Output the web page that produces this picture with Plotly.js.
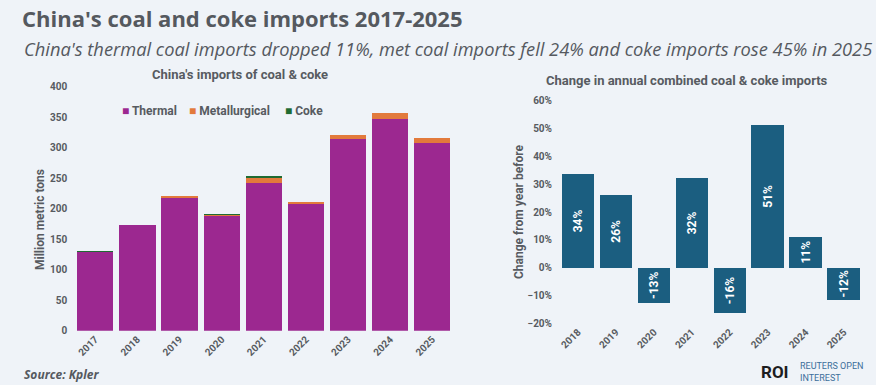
<!DOCTYPE html>
<html>
<head>
<meta charset="utf-8">
<script src="https://cdn.plot.ly/plotly-3.0.1.min.js"></script>
<style>
  html, body { margin: 0; padding: 0; background: #eff3f8; }
  #chart { width: 876px; height: 385px; }
</style>
</head>
<body>
<div id="chart"></div>
<script>
// ---- Data ----
const years = ['2017', '2018', '2019', '2020', '2021', '2022', '2023', '2024', '2025'];
const thermal = [129, 173, 218, 187.5, 242.5, 208, 315, 347.5, 308];
const metallurgical = [0.5, 0.6, 2.2, 1.5, 8.5, 3.7, 5.1, 9.1, 7.1];
const coke = [1.5, 0, 0, 2.3, 2, 0, 0, 0, 0];

const changeYears = ['2018', '2019', '2020', '2021', '2022', '2023', '2024', '2025'];
const changePct = [33.6, 26.1, -12.7, 32.1, -16.4, 51.2, 11.1, -11.6];

const seriesNames = ['Thermal', 'Metallurgical', 'Coke'];
const seriesColors = ['#9c2890', '#e27a3c', '#1f6b32'];
const changeColor = '#1b5e80';

const W = 876, H = 385;
const px = x => x / W;
const py = y => (H - y) / H;

const FONT = 'Roboto, "Open Sans", sans-serif';
const HFONT = '"Open Sans", Roboto, sans-serif';
const GRAY = '#575b61';

const seriesData = [thermal, metallurgical, coke];
const traces = seriesData.map((vals, i) => ({
  type: 'bar',
  name: seriesNames[i],
  x: years,
  y: vals,
  xaxis: 'x',
  yaxis: 'y',
  marker: { color: seriesColors[i] },
  hoverinfo: 'x+y+name'
}));

traces.push({
  type: 'bar',
  name: 'Change',
  x: changeYears,
  y: changePct,
  xaxis: 'x2',
  yaxis: 'y2',
  marker: { color: changeColor },
  texttemplate: '%{y:.0f}%',
  textposition: 'inside',
  insidetextanchor: 'middle',
  textangle: -90,
  textfont: { family: FONT, size: 12, color: '#ffffff', weight: 'bold' },
  constraintext: 'none',
  showlegend: false
});

const tickFont = { family: FONT, size: 10, color: GRAY, weight: 'bold' };

// Legend built as annotations
const legendX = [120, 187, 283];
const legendAnn = seriesNames.map((n, i) => ({
  xref: 'paper', yref: 'paper',
  x: px(legendX[i]), y: py(111),
  xanchor: 'left', yanchor: 'middle',
  showarrow: false,
  text: '<span style="color:' + seriesColors[i] + '">■</span> ' + n,
  font: { family: FONT, size: 12, color: GRAY, weight: 'bold' }
}));

const layout = {
  width: W, height: H,
  margin: { l: 0, r: 0, t: 0, b: 0 },
  paper_bgcolor: '#eff3f8',
  plot_bgcolor: '#eff3f8',
  barmode: 'stack',
  bargap: 0.14,
  showlegend: false,
  title: {
    text: "<b>China's coal and coke imports 2017-2025</b>",
    x: px(22), xanchor: 'left', xref: 'container',
    y: py(19), yanchor: 'middle', yref: 'container',
    font: { family: HFONT, size: 22, color: '#55595f' }
  },
  xaxis: {
    domain: [px(74.2), px(453.4)],
    anchor: 'y',
    type: 'category',
    tickmode: 'array', tickvals: years, ticktext: years,
    tickangle: -45,
    tickfont: tickFont,
    showgrid: false, zeroline: false, showline: false,
    ticks: ''
  },
  yaxis: {
    domain: [py(330.7), py(86.7)],
    anchor: 'x',
    range: [0, 400],
    dtick: 50,
    tickfont: tickFont,
    showgrid: false, zeroline: false, showline: false,
    ticks: '',
    ticklabelstandoff: 6
  },
  xaxis2: {
    domain: [px(559), px(862.7)],
    anchor: 'y2',
    type: 'category',
    tickmode: 'array', tickvals: changeYears, ticktext: changeYears,
    tickangle: -45,
    tickfont: tickFont,
    showgrid: false, zeroline: false, showline: false,
    ticks: ''
  },
  yaxis2: {
    domain: [py(323.3), py(100.7)],
    anchor: 'x2',
    range: [-20, 60],
    dtick: 10,
    ticksuffix: '%',
    tickfont: tickFont,
    showgrid: false, zeroline: false, showline: false,
    ticks: '',
    ticklabelstandoff: 6
  },
  annotations: [
    {
      xref: 'paper', yref: 'paper', x: px(22), y: py(48),
      xanchor: 'left', yanchor: 'middle', showarrow: false,
      text: "<i>China's thermal coal imports dropped 11%, met coal imports fell 24% and coke imports rose 45% in 2025</i>",
      font: { family: HFONT, size: 18.3, color: '#55595f' }
    },
    {
      xref: 'paper', yref: 'paper', x: px(240), y: py(75),
      xanchor: 'center', yanchor: 'middle', showarrow: false,
      text: "China's imports of coal & coke",
      font: { family: FONT, size: 13, color: GRAY, weight: 'bold' }
    },
    {
      xref: 'paper', yref: 'paper', x: px(687), y: py(81),
      xanchor: 'center', yanchor: 'middle', showarrow: false,
      text: 'Change in annual combined coal & coke imports',
      font: { family: FONT, size: 13, color: GRAY, weight: 'bold' }
    },
    {
      xref: 'paper', yref: 'paper', x: px(40), y: py(220),
      xanchor: 'center', yanchor: 'middle', showarrow: false,
      textangle: -90,
      text: 'Million metric tons',
      font: { family: FONT, size: 12, color: GRAY, weight: 'bold' }
    },
    {
      xref: 'paper', yref: 'paper', x: px(519), y: py(212),
      xanchor: 'center', yanchor: 'middle', showarrow: false,
      textangle: -90,
      text: 'Change from year before',
      font: { family: FONT, size: 12, color: GRAY, weight: 'bold' }
    },
    {
      xref: 'paper', yref: 'paper', x: px(22), y: py(374),
      xanchor: 'left', yanchor: 'middle', showarrow: false,
      text: '<i><b>Source: Kpler</b></i>',
      font: { family: HFONT, size: 12, color: '#55595f' }
    },
    {
      xref: 'paper', yref: 'paper', x: px(759), y: py(372),
      xanchor: 'left', yanchor: 'middle', showarrow: false,
      text: '<b>ROI</b>',
      font: { family: FONT, size: 17, color: '#1d1d1f' }
    },
    {
      xref: 'paper', yref: 'paper', x: px(798), y: py(372),
      xanchor: 'left', yanchor: 'middle', showarrow: false,
      align: 'left',
      text: 'REUTERS OPEN<br>INTEREST',
      font: { family: FONT, size: 9, color: '#3d6f9b' }
    }
  ].concat(legendAnn)
};

Plotly.newPlot('chart', traces, layout, { displayModeBar: false, staticPlot: true });
</script>
</body>
</html>
